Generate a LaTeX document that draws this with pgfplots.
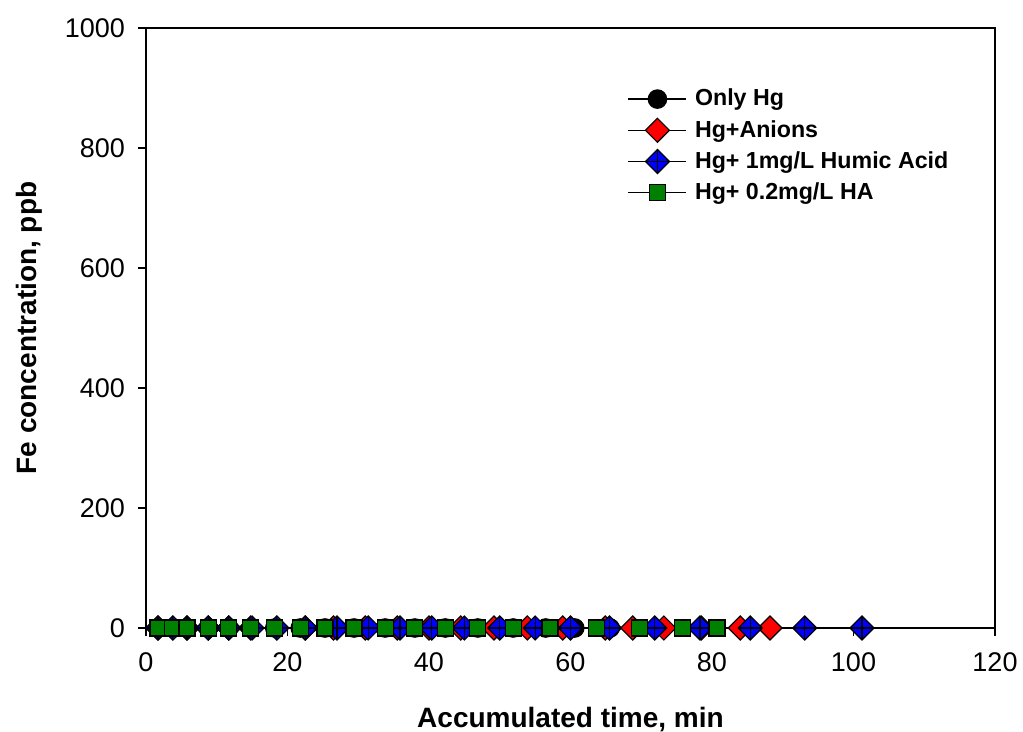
\documentclass[border=0pt]{standalone}
\usepackage{pgfplots}
\pgfplotsset{compat=1.18}
\usepackage{fontspec}
\setmainfont{Liberation Sans}
\pgfdeclareplotmark{mydiamond}{%
  \pgfpathmoveto{\pgfqpoint{0pt}{\pgfplotmarksize}}%
  \pgfpathlineto{\pgfqpoint{\pgfplotmarksize}{0pt}}%
  \pgfpathlineto{\pgfqpoint{0pt}{-\pgfplotmarksize}}%
  \pgfpathlineto{\pgfqpoint{-\pgfplotmarksize}{0pt}}%
  \pgfpathclose\pgfusepathqfillstroke}
\pgfdeclareplotmark{mydiamondplus}{%
  \pgfpathmoveto{\pgfqpoint{0pt}{\pgfplotmarksize}}%
  \pgfpathlineto{\pgfqpoint{\pgfplotmarksize}{0pt}}%
  \pgfpathlineto{\pgfqpoint{0pt}{-\pgfplotmarksize}}%
  \pgfpathlineto{\pgfqpoint{-\pgfplotmarksize}{0pt}}%
  \pgfpathclose\pgfusepathqfillstroke
  \pgfpathmoveto{\pgfqpoint{0pt}{\pgfplotmarksize}}%
  \pgfpathlineto{\pgfqpoint{0pt}{-\pgfplotmarksize}}%
  \pgfpathmoveto{\pgfqpoint{\pgfplotmarksize}{0pt}}%
  \pgfpathlineto{\pgfqpoint{-\pgfplotmarksize}{0pt}}%
  \pgfusepathqstroke}
\definecolor{myred}{RGB}{255,0,0}
\definecolor{myblue}{RGB}{0,0,255}
\definecolor{mygreen}{RGB}{0,128,0}
\begin{document}
\begin{tikzpicture}
\useasboundingbox (-73pt,-52pt) rectangle (438.5pt,314pt);
\begin{axis}[
  at={(0,0)}, anchor=south west,
  scale only axis, width=424.5pt, height=300pt,
  xmin=0, xmax=120, ymin=0, ymax=1000,
  xtick={0,20,...,120}, ytick={0,200,...,1000},
  tick align=outside, tick pos=left,
  major tick length=4pt,
  clip=false,
  axis line style={line width=0.6pt},
  tick style={line width=0.6pt, black},
  ticklabel style={font=\fontsize{13.5}{15}\selectfont},
  /pgf/number format/assume math mode=true,
  /pgf/number format/1000 sep={},
  xticklabel style={yshift=-5pt},
  yticklabel style={xshift=-3pt},
  xlabel={\textbf{Accumulated time, min}},
  ylabel={\textbf{Fe concentration, ppb}},
  label style={font=\fontsize{14}{16}\selectfont},
  xlabel style={yshift=-10.5pt},
  ylabel style={yshift=4.5pt},
  legend style={draw=none, fill=none, at={(0.56,0.912)}, anchor=north west,
    font=\bfseries\fontsize{11.6}{13}\selectfont, row sep=1.7pt,
    /tikz/every odd column/.append style={column sep=2pt}},
  legend image code/.code={\draw[mark repeat=2,mark phase=2] plot coordinates {(0pt,0pt)(14.5pt,0pt)(29pt,0pt)};},
  legend cell align=left,
  every axis plot/.append style={line width=0.6pt},
]
\addplot[black, mark=*, mark size=4.6pt, mark options={fill=black}]
  coordinates {(1.7,0)(3.8,0)(5.8,0)(8.8,0)(11.7,0)(14.8,0)(18.2,0)(21.8,0)(25.3,0)(29.4,0)(33.8,0)(38,0)(42.3,0)(46.9,0)(51.9,0)(56.5,0)(60.6,0)(65.6,0)};
\addlegendentry{Only Hg}
\addplot[black, mark=mydiamond, mark size=6pt, mark options={fill=myred}]
  coordinates {(1.7,0)(3.8,0)(5.8,0)(8.8,0)(11.7,0)(14.8,0)(18.5,0)(22.5,0)(26.5,0)(31,0)(35.5,0)(40,0)(44.5,0)(49.2,0)(53.9,0)(58.9,0)(64.9,0)(68.8,0)(73.2,0)(78.5,0)(84,0)(88.2,0)};
\addlegendentry{Hg+Anions}
\addplot[black, mark=mydiamondplus, mark size=6pt, mark options={fill=myblue}]
  coordinates {(1.7,0)(3.8,0)(5.8,0)(8.8,0)(11.7,0)(15,0)(18.5,0)(22.5,0)(27,0)(31.4,0)(35.9,0)(40.4,0)(45,0)(50,0)(55,0)(60,0)(65.5,0)(71.9,0)(78.3,0)(85.4,0)(93.1,0)(101.2,0)};
\addlegendentry{Hg+ 1mg/L Humic Acid}
\addplot[black, mark=square*, mark size=4pt, mark options={fill=mygreen}]
  coordinates {(1.7,0)(3.8,0)(5.8,0)(8.8,0)(11.7,0)(14.8,0)(18.2,0)(21.8,0)(25.3,0)(29.4,0)(33.8,0)(38,0)(42.3,0)(46.9,0)(51.9,0)(57.1,0)(63.7,0)(69.8,0)(75.8,0)(80.7,0)};
\addlegendentry{Hg+ 0.2mg/L HA}
\end{axis}
\end{tikzpicture}
\end{document}
